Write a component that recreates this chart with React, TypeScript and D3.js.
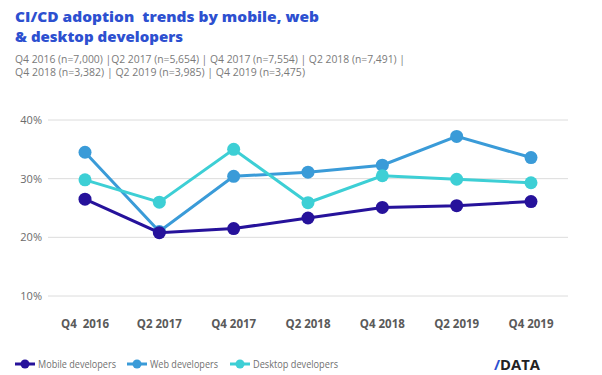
import React from "react";
import * as d3 from "d3";

const categories = ["Q4  2016", "Q2 2017", "Q4 2017", "Q2 2018", "Q4 2018", "Q2 2019", "Q4 2019"];
const mobile = [26.5, 20.8, 21.5, 23.3, 25.1, 25.4, 26.1];
const web = [34.5, 21.0, 30.4, 31.1, 32.3, 37.2, 33.6];
const desktop = [29.8, 26.0, 35.0, 25.9, 30.5, 29.9, 29.3];
const yTicks = [10, 20, 30, 40];
const seriesNames = ["Mobile developers", "Web developers", "Desktop developers"];
const seriesColors = ["#26129b", "#3a9bd8", "#3dcfd5"];
const titleLines = ["CI/CD adoption  trends by mobile, web", "& desktop developers"];
const subtitleLines = [
  "Q4 2016 (n=7,000) |Q2 2017 (n=5,654) | Q4 2017 (n=7,554) | Q2 2018 (n=7,491) |",
  "Q4 2018 (n=3,382) | Q2 2019 (n=3,985) | Q4 2019 (n=3,475)",
];

export default function App() {
  const W = 602, H = 375;
  const x = d3.scalePoint<string>().domain(categories).range([85, 531]);
  const y = d3.scaleLinear().domain([10, 40]).range([296, 120]);
  const data = [mobile, web, desktop];
  const line = d3.line<number>().x((_, i) => x(categories[i])!).y((v) => y(v));
  const font = "'Open Sans', 'Noto Sans', sans-serif";
  const legendX = [15, 127, 230];
  const legendW = [78, 68, 85];
  const order = [1, 2, 0];
  return (
    <svg width={W} height={H} style={{ position: "absolute", left: 0, top: 0, background: "#fff" }} fontFamily={font}>
      {titleLines.map((t, i) => (
        <text key={i} x={15} y={21.5 + i * 20} fontSize={14.5} fontWeight={800} fill="#2d50d0"
          textLength={i === 0 ? 304 : 168} lengthAdjust="spacingAndGlyphs" style={{ whiteSpace: "pre" }}>{t}</text>
      ))}
      {subtitleLines.map((t, i) => (
        <text key={i} x={15} y={62.5 + i * 13} fontSize={10} fill="#7a7a7a"
          textLength={i === 0 ? 390 : 290} lengthAdjust="spacingAndGlyphs">{t}</text>
      ))}
      {yTicks.map((t) => (
        <g key={t}>
          <line x1={48} x2={568} y1={y(t)} y2={y(t)} stroke="#dcdcdc" strokeWidth={1} />
          <text x={42} y={y(t) + 4} textAnchor="end" fontSize={11} fill="#6b6b6b">{t}%</text>
        </g>
      ))}
      {categories.map((c) => (
        <text key={c} x={x(c)} y={328} textAnchor="middle" fontSize={11.5} fontWeight={700} fill="#5a5a5a"
          style={{ whiteSpace: "pre" }}>{c}</text>
      ))}
      {order.map((si) => (
        <g key={si}>
          <path d={line(data[si])!} fill="none" stroke={seriesColors[si]} strokeWidth={3} />
          {data[si].map((v, i) => (
            <circle key={i} cx={x(categories[i])} cy={y(v)} r={6.5} fill={seriesColors[si]} />
          ))}
        </g>
      ))}
      {seriesNames.map((n, i) => (
        <g key={n}>
          <line x1={legendX[i]} x2={legendX[i] + 20} y1={364} y2={364} stroke={seriesColors[i]} strokeWidth={3} />
          <circle cx={legendX[i] + 10} cy={364} r={4.5} fill={seriesColors[i]} />
          <text x={legendX[i] + 23} y={367.5} fontSize={10} fill="#707070"
            textLength={legendW[i]} lengthAdjust="spacingAndGlyphs">{n}</text>
        </g>
      ))}
      <text x={494} y={370} fontSize={15} fontWeight={700} fill="#222" textLength={46} lengthAdjust="spacingAndGlyphs">
        <tspan fill="#2d50d0">/</tspan>DATA
      </text>
    </svg>
  );
}
